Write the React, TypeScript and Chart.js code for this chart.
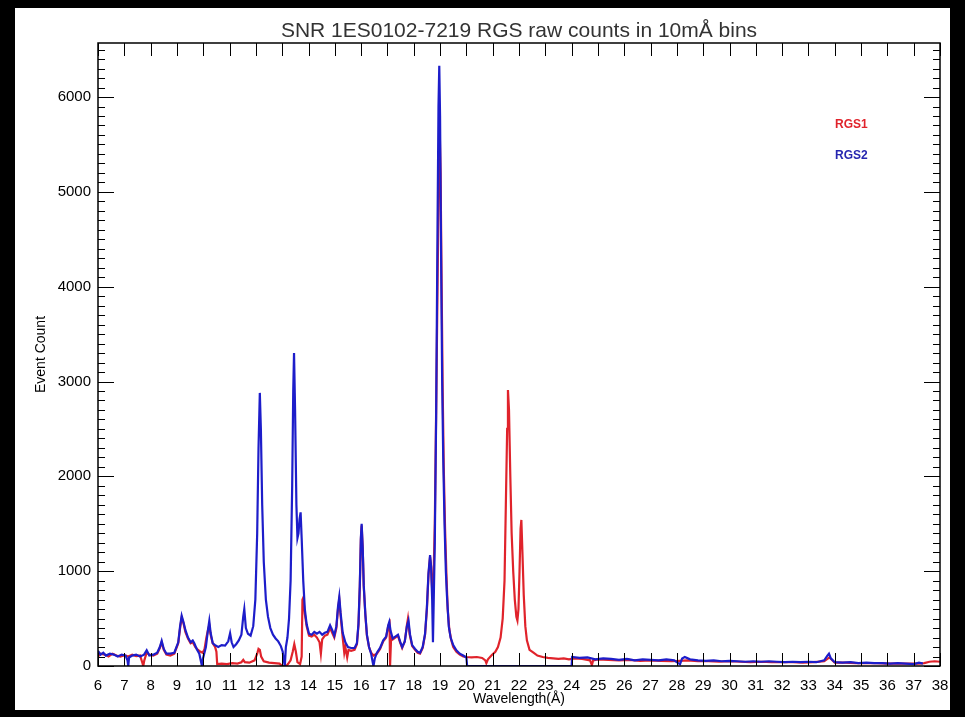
import { useEffect, useRef } from "react";
import { Chart, registerables } from "chart.js";

Chart.register(...registerables);

const chartTitle = "SNR 1ES0102-7219 RGS raw counts in 10mÅ bins";
const xAxisTitle = "Wavelength(Å)";
const yAxisTitle = "Event Count";
const seriesNames = ["RGS1", "RGS2"];

const xMin = 6;
const xMax = 38;
const xStep = 1;
const yMin = 0;
const yMax = 6570;
const yTickValues = [0, 1000, 2000, 3000, 4000, 5000, 6000];
const yMajorStep = 1000;
const yMinorStep = 100;

// RGS1 (red)
const rgs1Wavelength = [
  6.0, 6.1, 6.25, 6.4, 6.55, 6.7, 6.85, 7.0, 7.15, 7.3, 7.45, 7.6, 7.68, 7.72, 7.76, 7.85, 7.95,
  8.1, 8.25, 8.35, 8.42, 8.5, 8.6, 8.75, 8.9, 9.05, 9.12, 9.18, 9.25, 9.32, 9.42, 9.52, 9.6, 9.7,
  9.8, 9.9, 9.98, 10.05, 10.12, 10.18, 10.23, 10.28, 10.36, 10.45, 10.5, 10.53, 10.7, 10.9, 11.1,
  11.3, 11.45, 11.52, 11.58, 11.75, 11.95, 12.05, 12.1, 12.15, 12.2, 12.3, 12.5, 12.7, 12.9, 13.0,
  13.15, 13.22, 13.32, 13.4, 13.46, 13.52, 13.58, 13.68, 13.74, 13.77, 13.8, 13.86, 13.93, 14.02,
  14.12, 14.22, 14.32, 14.42, 14.47, 14.52, 14.62, 14.72, 14.82, 14.9, 14.98, 15.06, 15.12, 15.17,
  15.22, 15.3, 15.36, 15.4, 15.47, 15.52, 15.62, 15.75, 15.84, 15.9, 15.95, 15.99, 16.02, 16.06,
  16.1, 16.16, 16.22, 16.3, 16.38, 16.47, 16.6, 16.72, 16.84, 16.95, 17.03, 17.08, 17.1, 17.14,
  17.2, 17.3, 17.4, 17.48, 17.56, 17.66, 17.74, 17.78, 17.84, 17.94, 18.05, 18.15, 18.24, 18.34,
  18.43, 18.5, 18.56, 18.62, 18.66, 18.7, 18.75, 18.8, 18.86, 18.92, 18.96, 18.99, 19.02, 19.06,
  19.1, 19.14, 19.19, 19.24, 19.29, 19.35, 19.42, 19.5, 19.62, 19.75, 19.88, 20.0, 20.2, 20.4,
  20.6, 20.72, 20.76, 20.82, 20.95, 21.1, 21.2, 21.3, 21.38, 21.45, 21.5, 21.55, 21.58, 21.62,
  21.67, 21.72, 21.78, 21.84, 21.9, 21.94, 21.98, 22.02, 22.06, 22.09, 22.13, 22.18, 22.24, 22.3,
  22.4, 22.55, 22.7, 22.9, 23.1, 23.3, 23.5, 23.7, 23.9, 24.1, 24.4, 24.7, 24.77, 24.82, 25.0,
  25.4, 25.8, 26.2, 26.6, 27.0, 27.4, 27.8, 28.1, 28.4, 28.8, 29.2, 29.6, 30.0, 30.4, 30.8, 31.2,
  31.6, 32.0, 32.4, 32.8, 33.2, 33.6, 33.8, 34.0, 34.4, 34.8, 35.2, 35.6, 36.0, 36.4, 36.8, 37.2,
  37.4, 37.6, 37.8, 38.0,
];
const rgs1Counts = [
  100, 130, 120, 100, 130, 110, 100, 115, 100, 120, 105, 110, 40, 0, 60, 140, 120,
  110, 130, 190, 250, 170, 120, 110, 130, 240, 400, 510, 450, 360, 290, 240, 250, 200,
  170, 150, 140, 180, 300, 380, 430, 330, 240, 200, 150, 20, 25, 20, 30,
  25, 40, 65, 40, 35, 60, 130, 180, 170, 100, 50, 35, 30, 25, 0,
  0, 20, 60, 150, 230, 150, 40, 20, 100, 700, 720, 550, 420, 320,
  310, 330, 300, 250, 130, 280, 320, 330, 400, 350, 300, 400, 600, 700,
  530, 300, 140, 200, 90, 170, 160, 170, 230, 430, 830, 1330, 1480, 1240,
  840, 540, 320, 200, 140, 110, 130, 180, 260, 300, 420, 450, 0, 300,
  280, 300, 320, 250, 190, 260, 430, 500, 340, 210, 170, 140, 130, 190,
  330, 600, 960, 1150, 1040, 800, 900, 1500, 2900, 4400, 5300, 5600, 5200, 4000,
  2900, 2100, 1450, 980, 600, 390, 280, 200, 150, 120, 100, 95, 90, 95,
  85, 60, 30, 70, 110, 150, 200, 300, 500, 900, 1700, 2500, 2910, 2700,
  2000, 1400, 1000, 700, 520, 480, 600, 1000, 1450, 1540, 1200, 750, 420, 270,
  170, 140, 110, 95, 85, 80, 75, 80, 70, 80, 75, 60, 10, 60, 70,
  65, 60, 65, 55, 60, 55, 50, 55, 60, 50, 50, 45, 50, 45, 40, 45,
  40, 40, 40, 35, 40, 50, 90, 35, 35, 30, 30, 30, 25, 25, 25, 25,
  30, 45, 50, 45,
];

// RGS2 (blue)
const rgs2Wavelength = [
  6.0, 6.1, 6.2, 6.3, 6.45, 6.6, 6.75, 6.9, 7.05, 7.12, 7.15, 7.18, 7.3, 7.45, 7.6, 7.75, 7.85,
  7.95, 8.1, 8.25, 8.35, 8.42, 8.5, 8.6, 8.75, 8.9, 9.05, 9.12, 9.18, 9.25, 9.32, 9.42, 9.52,
  9.6, 9.66, 9.75, 9.85, 9.92, 9.95, 9.99, 10.1, 10.18, 10.23, 10.28, 10.36, 10.45, 10.57,
  10.7, 10.83, 10.95, 11.02, 11.08, 11.15, 11.25, 11.35, 11.45, 11.52, 11.56, 11.62, 11.7,
  11.8, 11.9, 11.98, 12.05, 12.1, 12.15, 12.19, 12.24, 12.3, 12.38, 12.46, 12.55, 12.65,
  12.75, 12.85, 12.95, 13.02, 13.06, 13.1, 13.14, 13.2, 13.26, 13.32, 13.38, 13.42, 13.45,
  13.49, 13.54, 13.58, 13.62, 13.66, 13.7, 13.74, 13.8, 13.86, 13.93, 14.02, 14.12, 14.22,
  14.32, 14.42, 14.52, 14.62, 14.72, 14.82, 14.9, 14.98, 15.06, 15.12, 15.17, 15.22, 15.3,
  15.4, 15.5, 15.62, 15.75, 15.84, 15.9, 15.95, 15.99, 16.02, 16.06, 16.1, 16.16, 16.22,
  16.3, 16.38, 16.44, 16.47, 16.52, 16.6, 16.72, 16.84, 16.95, 17.03, 17.07, 17.12, 17.2,
  17.3, 17.4, 17.48, 17.56, 17.66, 17.74, 17.8, 17.86, 17.94, 18.05, 18.15, 18.24, 18.34,
  18.43, 18.5, 18.56, 18.62, 18.66, 18.7, 18.73, 18.76, 18.8, 18.85, 18.9, 18.94, 18.97,
  19.0, 19.04, 19.08, 19.12, 19.17, 19.22, 19.26, 19.33, 19.4, 19.5, 19.62, 19.75, 19.88,
  20.0, 20.03, 24.0, 24.02, 24.3, 24.6, 24.9, 25.2, 25.5, 25.8, 26.1, 26.4, 26.7, 27.0,
  27.3, 27.6, 27.9, 28.05, 28.12, 28.2, 28.3, 28.5, 28.8, 29.1, 29.4, 29.7, 30.0, 30.3,
  30.6, 30.9, 31.2, 31.5, 31.8, 32.1, 32.4, 32.7, 33.0, 33.3, 33.6, 33.72, 33.78, 33.85,
  34.0, 34.3, 34.6, 34.9, 35.2, 35.5, 35.8, 36.1, 36.4, 36.7, 37.0, 37.2, 37.35,
];
const rgs2Counts = [
  160, 120, 140, 110, 130, 120, 100, 120, 110, 60, 0, 90, 110, 120, 100, 120, 165,
  110, 120, 140, 200, 265, 180, 130, 130, 140, 250, 420, 530, 460, 380, 300, 250,
  270, 240, 180, 130, 40, 0, 80, 200, 380, 475, 350, 240, 220, 200,
  220, 215, 260, 345, 250, 200, 230, 270, 330, 520, 600, 400, 340,
  320, 420, 700, 1400, 2300, 2880, 2500, 1700, 1100, 700, 520, 400, 330,
  290, 260, 210, 150, 60, 0, 200, 300, 500, 900, 1900, 2900, 3300,
  2700, 1700, 1350, 1400, 1550, 1620, 1350, 900, 600, 440, 340, 330, 360,
  340, 360, 330, 350, 360, 430, 380, 320, 420, 620, 730, 560, 350,
  250, 200, 190, 190, 240, 450, 850, 1350, 1500, 1250, 850, 550, 330,
  200, 130, 40, 0, 80, 140, 190, 270, 310, 430, 465, 370, 290,
  310, 330, 260, 200, 260, 420, 480, 330, 220, 180, 150, 140, 200,
  340, 620, 980, 1170, 1050, 700, 250, 700, 1300, 2600, 4500, 5900, 6330,
  5800, 4300, 3000, 2200, 1500, 1000, 750, 420, 300, 220, 165, 130, 110,
  90, 0, 0, 95, 85, 90, 70, 80, 75, 65, 75, 60, 70, 65,
  60, 70, 60, 30, 20, 80, 95, 70, 60, 55, 60, 50, 55, 50,
  45, 50, 45, 50, 45, 40, 45, 40, 45, 40, 60, 110, 130, 80,
  40, 35, 40, 30, 35, 30, 30, 25, 30, 25, 20, 35, 25,
];

const redColor = "#e0232b";
const blueColor = "#1d1dca";
const fontFamily = "'Liberation Sans', Arial, sans-serif";

function toPoints(xs: number[], ys: number[]) {
  return xs.map((x, i) => ({ x, y: ys[i] }));
}

const framePlugin = {
  id: "frameTicks",
  afterDraw(chart: any) {
    const { ctx, chartArea: a } = chart;
    const xs = chart.scales.x;
    const ys = chart.scales.y;
    ctx.save();
    ctx.strokeStyle = "#000";
    ctx.lineWidth = 1;
    const line = (x1: number, y1: number, x2: number, y2: number) => {
      ctx.beginPath();
      ctx.moveTo(x1, y1);
      ctx.lineTo(x2, y2);
      ctx.stroke();
    };
    for (const t of xs.ticks) {
      const p = Math.round(xs.getPixelForValue(t.value)) + 0.5;
      line(p, a.bottom, p, a.bottom - 13);
      line(p, a.top, p, a.top + 13);
    }
    for (let v = yMin; v <= yMax; v += yMinorStep) {
      const p = Math.round(ys.getPixelForValue(v)) + 0.5;
      const len = v % yMajorStep === 0 ? 16 : 7;
      line(a.left, p, a.left + len, p);
      line(a.right, p, a.right - len, p);
    }
    ctx.lineWidth = 1.5;
    ctx.strokeRect(a.left, a.top, a.right - a.left, a.bottom - a.top);
    ctx.restore();

    ctx.save();
    ctx.fillStyle = "#333";
    ctx.font = "21px " + fontFamily;
    ctx.textAlign = "center";
    ctx.textBaseline = "alphabetic";
    ctx.fillText(chartTitle, (a.left + a.right) / 2, 37);
    ctx.font = "bold 12px " + fontFamily;
    ctx.textAlign = "left";
    ctx.fillStyle = redColor;
    ctx.fillText(seriesNames[0], a.left + 737, a.top + 85);
    ctx.fillStyle = "#2626b0";
    ctx.fillText(seriesNames[1], a.left + 737, a.top + 116);
    ctx.restore();
  },
};

export default function App() {
  const canvasRef = useRef<HTMLCanvasElement | null>(null);

  useEffect(() => {
    const canvas = canvasRef.current;
    if (!canvas) return;
    const chart = new Chart(canvas, {
      type: "line",
      data: {
        datasets: [
          {
            label: seriesNames[0],
            data: toPoints(rgs1Wavelength, rgs1Counts),
            borderColor: redColor,
            borderWidth: 2.2,
            pointRadius: 0,
            tension: 0,
            order: 2,
          },
          {
            label: seriesNames[1],
            data: toPoints(rgs2Wavelength, rgs2Counts),
            borderColor: blueColor,
            borderWidth: 2.2,
            pointRadius: 0,
            tension: 0,
            order: 1,
          },
        ],
      },
      options: {
        animation: false,
        responsive: false,
        devicePixelRatio: 1,
        parsing: false as any,
        normalized: true,
        layout: { padding: { left: 0, right: 25, top: 43, bottom: 0 } },
        plugins: {
          legend: { display: false },
          tooltip: { enabled: false },
          title: { display: false },
        },
        scales: {
          x: {
            type: "linear",
            min: xMin,
            max: xMax,
            grid: { display: false, drawTicks: false, tickLength: 0 },
            border: { display: false },
            ticks: {
              stepSize: xStep,
              autoSkip: false,
              maxRotation: 0,
              includeBounds: false,
              padding: 11,
              color: "#000",
              font: { size: 15, family: fontFamily },
            },
            title: {
              display: true,
              text: xAxisTitle,
              color: "#000",
              font: { size: 14, family: fontFamily },
              padding: { top: 0, bottom: 9 },
            },
            afterFit(scale: any) {
              scale.height = 51;
            },
          },
          y: {
            type: "linear",
            min: yMin,
            max: yMax,
            grid: { display: false, drawTicks: false, tickLength: 0 },
            border: { display: false },
            afterBuildTicks(scale: any) {
              scale.ticks = yTickValues.map((value) => ({ value }));
            },
            ticks: {
              includeBounds: false,
              autoSkip: false,
              padding: 7,
              color: "#000",
              font: { size: 15, family: fontFamily },
              callback: (v: any) => String(v),
            },
            title: {
              display: true,
              text: yAxisTitle,
              color: "#000",
              font: { size: 14, family: fontFamily },
              padding: { top: 33, bottom: 0 },
            },
            afterFit(scale: any) {
              scale.width = 98;
            },
          },
        },
      },
      plugins: [framePlugin],
    });
    return () => chart.destroy();
  }, []);

  return (
    <div style={{ position: "fixed", left: 0, top: 0, width: 965, height: 717, background: "#000", overflow: "hidden" }}>
      <div style={{ position: "absolute", left: 15, top: 8, width: 935, height: 702, background: "#fff" }} />
      <canvas ref={canvasRef} width={965} height={717} style={{ position: "absolute", left: 0, top: 0, width: 965, height: 717 }} />
    </div>
  );
}
